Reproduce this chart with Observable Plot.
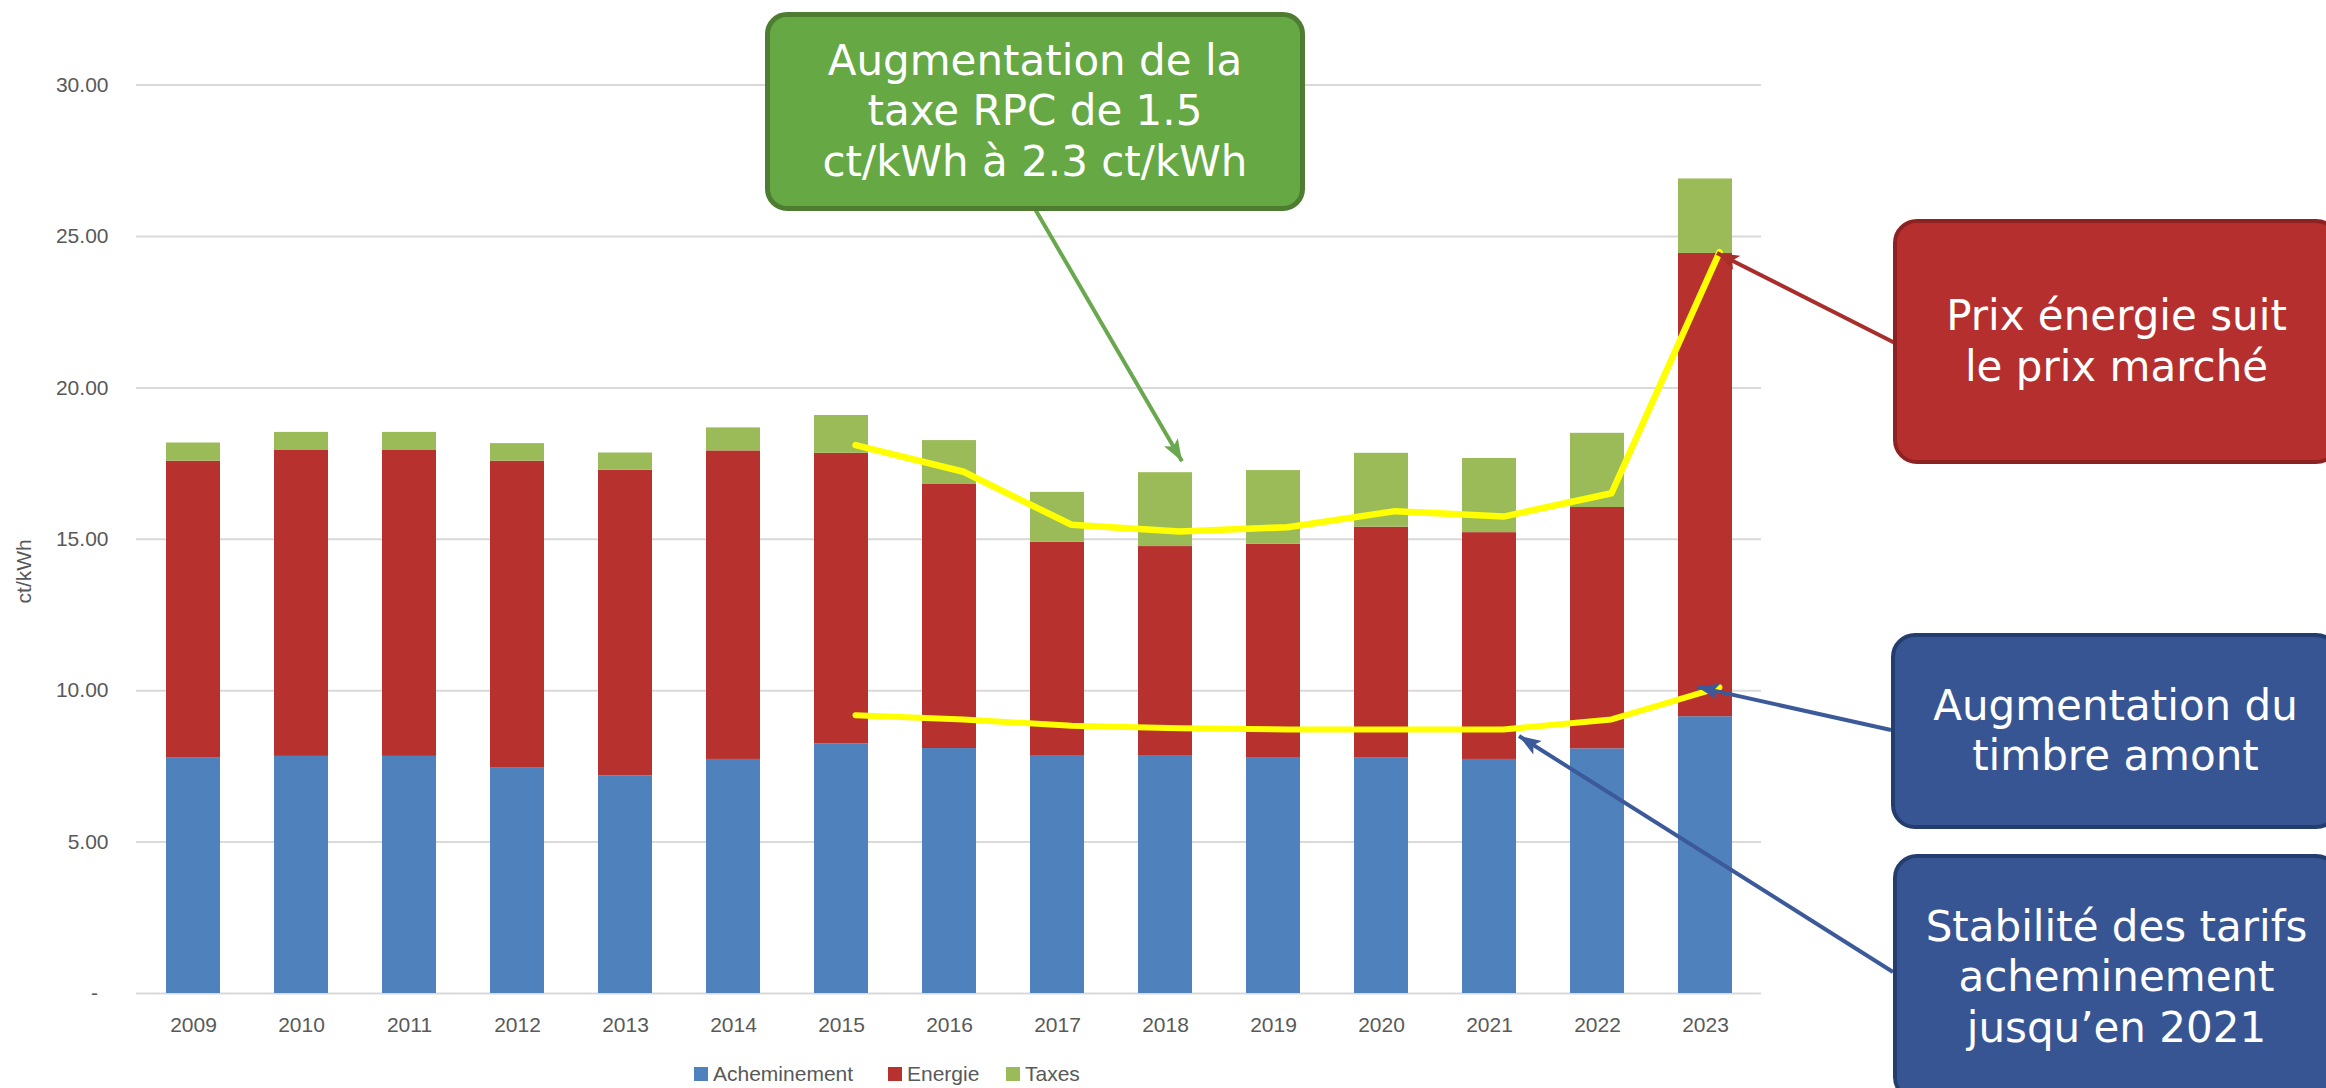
<!DOCTYPE html>
<html>
<head>
<meta charset="utf-8">
<script src="https://cdn.jsdelivr.net/npm/d3@7"></script>
<script src="https://cdn.jsdelivr.net/npm/@observablehq/plot@0.6"></script>
<style>
  html, body { margin: 0; padding: 0; background: #fff; }
  #wrap { position: relative; width: 2326px; height: 1088px; overflow: hidden; background: #fff; }
  #chart svg { display: block; }
  #legend { position: relative; height: 28px; font-family: 'Liberation Sans', Arial, sans-serif; font-size: 21px; color: #595959; }
  .item { position: absolute; top: 0; height: 28px; display: flex; align-items: center; white-space: nowrap; }
  .sw { width: 14px; height: 14px; margin-right: 5px; }
  .box { position: absolute; box-sizing: border-box; display: flex; align-items: center; justify-content: center;
         text-align: center; color: #fff; font-family: 'DejaVu Sans', Verdana, sans-serif; font-size: 42px; line-height: 50.5px; }
  #overlay { position: absolute; left: 0; top: 0; pointer-events: none; }
</style>
</head>
<body>
<div id="wrap">
  <div id="chart"></div>
  <div id="legend"></div>
</div>
<script>
// ---- data ----
const years = ["2009","2010","2011","2012","2013","2014","2015","2016","2017","2018","2019","2020","2021","2022","2023"];
const acheminement = [7.79, 7.83, 7.83, 7.46, 7.19, 7.73, 8.24, 8.09, 7.86, 7.86, 7.77, 7.79, 7.73, 8.08, 9.14];
const energie      = [9.79, 10.12, 10.12, 10.12, 10.09, 10.19, 9.60, 8.72, 7.04, 6.90, 7.07, 7.61, 7.49, 7.97, 15.30];
const taxes        = [0.60, 0.58, 0.58, 0.58, 0.57, 0.76, 1.25, 1.45, 1.65, 2.44, 2.43, 2.44, 2.45, 2.45, 2.46];
const seriesNames  = ["Acheminement", "Energie", "Taxes"];
const seriesColors = ["#4F81BD", "#B7312F", "#9BBB59"];
const yTicks = [0, 5, 10, 15, 20, 25, 30];
const yTitle = "ct/kWh";

// hand-drawn yellow trend lines (2015–2023)
const trendYears = ["2015","2016","2017","2018","2019","2020","2021","2022","2023"];
const trendEnergie      = [18.11, 17.23, 15.48, 15.26, 15.40, 15.93, 15.75, 16.52, 24.48];
const trendAcheminement = [9.19, 9.05, 8.84, 8.76, 8.72, 8.72, 8.72, 9.05, 10.11];

// annotation texts
const noteTaxe = ["Augmentation de la", "taxe RPC de 1.5", "ct/kWh à 2.3 ct/kWh"];
const notePrix = ["Prix énergie suit", "le prix marché"];
const noteTimbre = ["Augmentation du", "timbre amont"];
const noteStabilite = ["Stabilité des tarifs", "acheminement", "jusqu’en 2021"];

// ---- build tables ----
const seriesValues = [acheminement, energie, taxes];
const table = [];
seriesNames.forEach((s, i) => years.forEach((y, j) => table.push({year: y, series: s, value: seriesValues[i][j]})));
const lineE = trendYears.map((y, i) => ({year: y, value: trendEnergie[i]}));
const lineA = trendYears.map((y, i) => ({year: y, value: trendAcheminement[i]}));

const chart = Plot.plot({
  width: 2326,
  height: 1060,
  marginLeft: 136,
  marginRight: 565,
  marginTop: 84.6,
  marginBottom: 67,
  style: {fontFamily: "'Liberation Sans', Arial, sans-serif", fontSize: "21px", color: "#595959", background: "white", overflow: "visible"},
  x: {domain: years, paddingInner: 0.5, paddingOuter: 0.25, label: null},
  y: {domain: [0, 30], label: null},
  color: {domain: seriesNames, range: seriesColors},
  marks: [
    Plot.gridY(yTicks, {stroke: "#D9D9D9", strokeOpacity: 1, strokeWidth: 2}),
    Plot.barY(table, {x: "year", y: "value", fill: "series"}),
    Plot.line(lineE, {x: "year", y: "value", stroke: "#FFFF00", strokeWidth: 6.5, dx: 14}),
    Plot.line(lineA, {x: "year", y: "value", stroke: "#FFFF00", strokeWidth: 6, dx: 14}),
    Plot.axisX({tickSize: 0, tickPadding: 24, fill: "#595959", label: null}),
    Plot.axisY({ticks: yTicks, tickSize: 0, tickPadding: 28, fill: "#595959", label: null,
                tickFormat: d => d === 0 ? "-\u2002" : d.toFixed(2)}),
    Plot.text([yTitle], {frameAnchor: "left", dx: -112, dy: 32, rotate: -90, textAnchor: "middle", lineAnchor: "middle", fill: "#595959"})
  ]
});
document.getElementById("chart").appendChild(chart);

// ---- legend ----
const legend = document.getElementById("legend");
const legendLeft = [694, 888, 1006];
seriesNames.forEach((s, i) => {
  const it = document.createElement("div");
  it.className = "item";
  it.style.left = legendLeft[i] + "px";
  it.innerHTML = `<div class="sw" style="background:${seriesColors[i]}"></div><span>${s}</span>`;
  legend.appendChild(it);
});

// ---- annotation boxes ----
const wrap = document.getElementById("wrap");
function addBox(lines, left, top, width, height, fill, border, bw, radius) {
  const d = document.createElement("div");
  d.className = "box";
  Object.assign(d.style, {left: left + "px", top: top + "px", width: width + "px", height: height + "px",
    background: fill, border: `${bw}px solid ${border}`, borderRadius: radius + "px"});
  d.innerHTML = "<div>" + lines.join("<br>") + "</div>";
  wrap.appendChild(d);
}

// ---- arrows via the chart's scales ----
const xs = chart.scale("x"), ys = chart.scale("y");
const xc = y => xs.apply(y) + xs.bandwidth / 2;
const ns = "http://www.w3.org/2000/svg";
const ov = document.createElementNS(ns, "svg");
ov.setAttribute("id", "overlay");
ov.setAttribute("width", 2326);
ov.setAttribute("height", 1088);
const defs = document.createElementNS(ns, "defs");
ov.appendChild(defs);
function marker(id, color) {
  const m = document.createElementNS(ns, "marker");
  m.setAttribute("id", id);
  m.setAttribute("markerUnits", "userSpaceOnUse");
  m.setAttribute("markerWidth", 24);
  m.setAttribute("markerHeight", 18);
  m.setAttribute("refX", 22);
  m.setAttribute("refY", 9);
  m.setAttribute("orient", "auto");
  const p = document.createElementNS(ns, "path");
  p.setAttribute("d", "M0,1 L22,9 L0,17 L5,9 z");
  p.setAttribute("fill", color);
  m.appendChild(p);
  defs.appendChild(m);
}
function arrow(x1, y1, x2, y2, color, id) {
  marker(id, color);
  const l = document.createElementNS(ns, "line");
  l.setAttribute("x1", x1); l.setAttribute("y1", y1);
  l.setAttribute("x2", x2); l.setAttribute("y2", y2);
  l.setAttribute("stroke", color);
  l.setAttribute("stroke-width", 4);
  l.setAttribute("marker-end", `url(#${id})`);
  ov.appendChild(l);
}
const i18 = years.indexOf("2018"), i23 = years.indexOf("2023");
const total18 = acheminement[i18] + energie[i18] + taxes[i18];
const energyTop23 = acheminement[i23] + energie[i23];
arrow(1035, 209, xc("2018") + 17, ys.apply(total18) - 11, "#6AA84F", "mg");
arrow(1895, 343, xc("2023") + 12, ys.apply(energyTop23), "#A82E2C", "mr");
arrow(1891, 730, xc("2023") - 8, ys.apply(trendAcheminement[trendAcheminement.length - 1]), "#3C5A9A", "mb1");
arrow(1893, 972, xc("2021") + 30, ys.apply(trendAcheminement[trendYears.indexOf("2021")]) + 7, "#3C5A9A", "mb2");
wrap.appendChild(ov);

addBox(noteTaxe, 765, 12, 540, 199, "#65A844", "#4E7D31", 5, 22);
addBox(notePrix, 1893, 219, 447, 245, "#B52F2E", "#8C2322", 4, 24);
addBox(noteTimbre, 1891, 633, 449, 196, "#385593", "#233D6E", 4, 24);
addBox(noteStabilite, 1893, 854, 447, 247, "#385593", "#233D6E", 4, 24);
</script>
</body>
</html>
